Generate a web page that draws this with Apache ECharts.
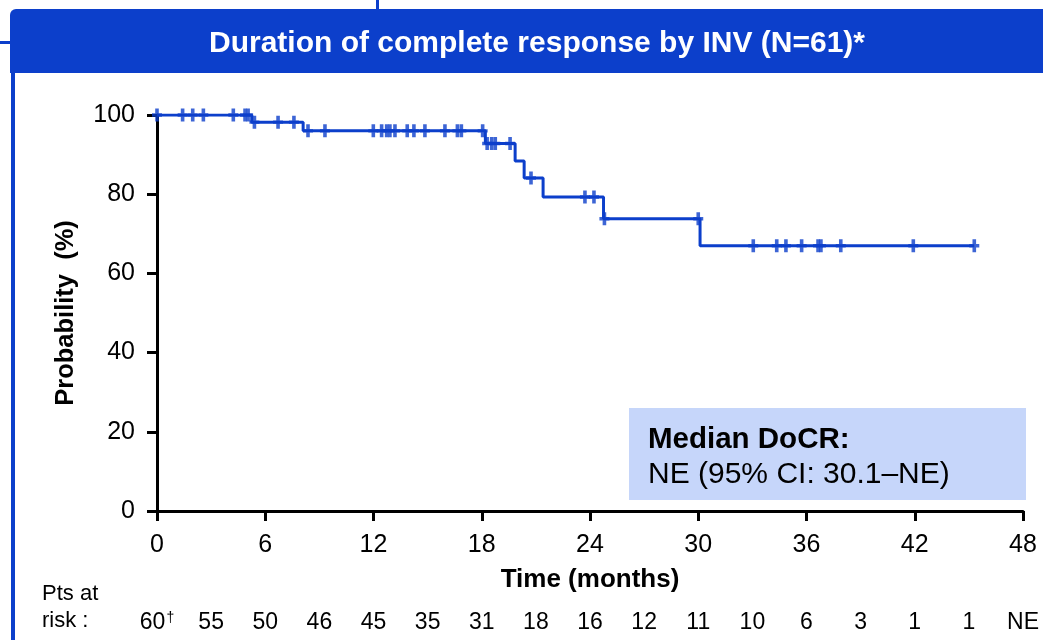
<!DOCTYPE html>
<html>
<head>
<meta charset="utf-8">
<script src="https://cdn.jsdelivr.net/npm/echarts@6/dist/echarts.min.js"></script>
<style>
  html, body { margin: 0; padding: 0; background: #ffffff; }
  #chart { width: 1043px; height: 640px; }
</style>
</head>
<body>
<div id="chart"></div>
<script>
// Kaplan–Meier steps: time of each event (months) and survival after it (%)
const eventTimes = [0, 5.25, 8.1, 18.2, 19.85, 20.35, 21.4, 24.75, 30.1, 45.3];
const survival   = [100, 98.2, 96.0, 92.8, 88.4, 84.1, 79.3, 73.8, 67.0, 67.0];

// Censored observations (months)
const censorTimes = [0, 1.42, 1.98, 2.57, 4.23, 4.88, 5.05, 5.4, 6.71, 7.59,
  8.37, 9.31, 11.99, 12.45, 12.73, 12.91, 13.19, 13.87, 14.24, 14.85, 15.96,
  16.65, 16.87, 18.05, 18.3, 18.55, 18.75, 19.57, 20.73, 23.72, 24.22, 24.8,
  30.0, 33.05, 34.35, 34.86, 35.73, 36.64, 36.8, 37.9, 41.92, 45.3];

// Number at risk every 3 months
const riskTimes  = [0, 3, 6, 9, 12, 15, 18, 21, 24, 27, 30, 33, 36, 39, 42, 45, 48];
const riskCounts = ['60', '55', '50', '46', '45', '35', '31', '18', '16', '12', '11', '10', '6', '3', '1', '1', 'NE'];

const xTicks = [0, 6, 12, 18, 24, 30, 36, 42, 48];
const yTicks = [0, 20, 40, 60, 80, 100];

const BLUE = '#0C3FCB';
const FONT = '"Liberation Sans", Arial, sans-serif';

function levelAt(t) {
  let s = survival[0];
  for (let i = 0; i < eventTimes.length; i++) {
    if (eventTimes[i] <= t) s = survival[i];
  }
  return s;
}

const kmData = eventTimes.map((t, i) => [t, survival[i]]);
const censorData = censorTimes.map(t => [t, levelAt(t)]);
const riskMap = {};
riskTimes.forEach((t, i) => { riskMap[t] = riskCounts[i]; });

const chart = echarts.init(document.getElementById('chart'), null, { renderer: 'canvas' });

chart.setOption({
  animation: false,
  backgroundColor: '#ffffff',
  textStyle: { fontFamily: FONT },
  grid: [
    { left: 157, right: 20, top: 115, bottom: 129 },
    { left: 157, right: 20, top: 601, height: 8 }
  ],
  xAxis: [
    {
      gridIndex: 0,
      type: 'value',
      min: 0, max: 48, interval: 6,
      name: 'Time (months)',
      nameLocation: 'middle',
      nameGap: 56,
      nameTextStyle: { color: '#000', fontSize: 26, fontWeight: 'bold', fontFamily: FONT },
      axisLine: { onZero: false, lineStyle: { color: '#000', width: 3 } },
      axisTick: { show: true, length: 10, lineStyle: { color: '#000', width: 3 } },
      axisLabel: {
        color: '#000', fontSize: 25, margin: 22, fontFamily: FONT,
        formatter: v => (xTicks.indexOf(v) >= 0 ? String(v) : '')
      },
      splitLine: { show: false }
    },
    {
      gridIndex: 1,
      type: 'value',
      min: 0, max: 48, interval: 3,
      axisLine: { show: false },
      axisTick: { show: false },
      splitLine: { show: false },
      axisLabel: {
        color: '#000', fontSize: 23, margin: 2, fontFamily: FONT,
        formatter: v => (v === 0 ? '{n|' + riskMap[v] + '}{d|†}' : (riskMap[v] || '')),
        rich: {
          n: { fontSize: 23, color: '#000', fontFamily: FONT },
          d: { fontSize: 14, color: '#000', fontFamily: FONT, verticalAlign: 'top', padding: [0, 0, 10, 1] }
        }
      }
    }
  ],
  yAxis: [
    {
      gridIndex: 0,
      type: 'value',
      min: 0, max: 100, interval: 20,
      name: 'Probability  (%)',
      nameLocation: 'middle',
      nameGap: 78,
      nameTextStyle: { color: '#000', fontSize: 25.5, fontWeight: 'bold', fontFamily: FONT },
      axisLine: { show: true, lineStyle: { color: '#000', width: 3 } },
      axisTick: { show: true, length: 10, lineStyle: { color: '#000', width: 3 } },
      axisLabel: { color: '#000', fontSize: 25, margin: 22, fontFamily: FONT },
      splitLine: { show: false }
    },
    { gridIndex: 1, type: 'value', show: false, min: 0, max: 1 }
  ],
  series: [
    {
      type: 'line',
      xAxisIndex: 0, yAxisIndex: 0,
      step: 'end',
      data: kmData,
      showSymbol: false,
      lineStyle: { color: BLUE, width: 3 },
      z: 3
    },
    {
      type: 'scatter',
      xAxisIndex: 0, yAxisIndex: 0,
      data: censorData,
      // filled plus sign marking a censored observation
      symbol: 'path://M3.2,0H6.8V4.8H10V8.2H6.8V13H3.2V8.2H0V4.8H3.2Z',
      symbolSize: [10, 13],
      itemStyle: { color: BLUE },
      z: 4
    },
    {
      type: 'scatter',
      xAxisIndex: 1, yAxisIndex: 1,
      data: [],
      silent: true
    }
  ],
  graphic: [
    // frame decorations
    { type: 'rect', shape: { x: 376, y: 0, width: 3, height: 10 }, style: { fill: BLUE } },
    { type: 'rect', shape: { x: 0, y: 41, width: 12, height: 3 }, style: { fill: BLUE } },
    { type: 'rect', shape: { x: 11, y: 70, width: 4, height: 570 }, style: { fill: BLUE } },
    // title banner
    { type: 'rect', shape: { x: 10, y: 9, width: 1033, height: 64, r: [6, 0, 0, 0] }, style: { fill: BLUE } },
    {
      type: 'text', x: 537, y: 44,
      style: {
        text: 'Duration of complete response by INV (N=61)*',
        fill: '#ffffff', font: 'bold 30px ' + FONT,
        textAlign: 'center', textVerticalAlign: 'middle'
      }
    },
    // median box
    { type: 'rect', shape: { x: 629, y: 408, width: 397, height: 92 }, style: { fill: '#C6D6FA' }, z: 1 },
    {
      type: 'text', x: 648, y: 440, z: 2,
      style: { text: 'Median DoCR:', fill: '#000', font: 'bold 29.5px ' + FONT, textVerticalAlign: 'middle' }
    },
    {
      type: 'text', x: 648, y: 475, z: 2,
      style: { text: 'NE (95% CI: 30.1–NE)', fill: '#000', font: '30px ' + FONT, textVerticalAlign: 'middle' }
    },
    // at-risk row caption
    {
      type: 'text', x: 42, y: 594,
      style: { text: 'Pts at', fill: '#000', font: '22px ' + FONT, textVerticalAlign: 'middle' }
    },
    {
      type: 'text', x: 42, y: 621,
      style: { text: 'risk :', fill: '#000', font: '22px ' + FONT, textVerticalAlign: 'middle' }
    }
  ]
});
</script>
</body>
</html>
